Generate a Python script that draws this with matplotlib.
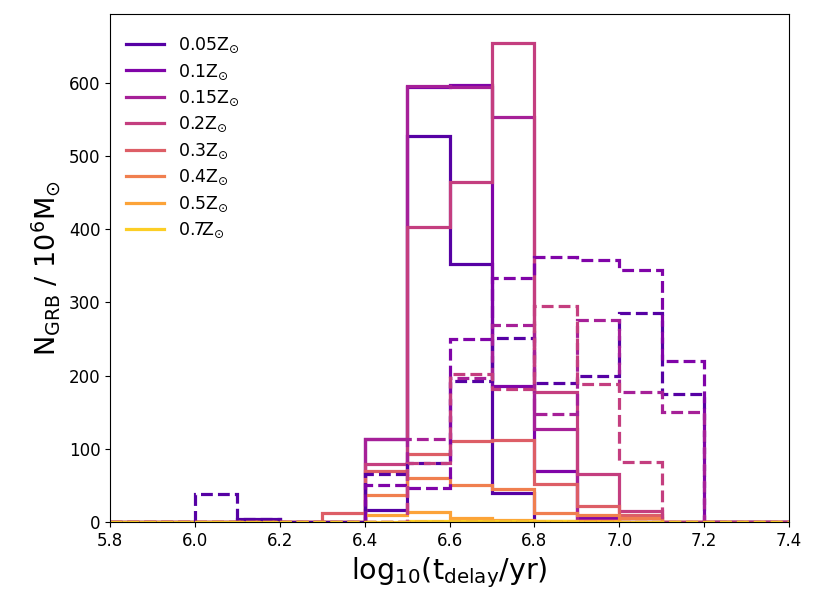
import numpy as np
import matplotlib
matplotlib.use('Agg')
import matplotlib.pyplot as plt

# bin edges in log10(t_delay/yr)
edges = [5.8, 5.9, 6.0, 6.1, 6.2, 6.3, 6.4, 6.5, 6.6, 6.7, 6.8, 6.9, 7.0, 7.1, 7.2, 7.3, 7.4]

labels = [r'0.05Z$_{\odot}$', r'0.1Z$_{\odot}$', r'0.15Z$_{\odot}$', r'0.2Z$_{\odot}$',
          r'0.3Z$_{\odot}$', r'0.4Z$_{\odot}$', r'0.5Z$_{\odot}$', r'0.7Z$_{\odot}$']

# solid histograms, N_GRB per 10^6 Msun
solid_005 = [0, 0, 0, 4, 0, 0, 16, 528, 352, 40, 0, 0, 0, 0, 0, 0]
solid_01 = [0, 0, 0, 0, 0, 0, 113, 594, 597, 186, 70, 5, 0, 0, 0, 0]
solid_015 = [0, 0, 0, 0, 0, 0, 113, 596, 595, 554, 127, 3, 0, 0, 0, 0]
solid_02 = [0, 0, 0, 0, 0, 0, 79, 403, 465, 655, 178, 66, 15, 0, 0, 0]
solid_03 = [0, 0, 0, 0, 0, 12, 70, 93, 111, 112, 52, 22, 10, 0, 0, 0]
solid_04 = [0, 0, 0, 0, 0, 0, 37, 60, 51, 45, 12, 10, 5, 0, 0, 0]
solid_05 = [0, 0, 0, 0, 0, 0, 10, 14, 6, 3, 2, 1, 0, 0, 0, 0]
solid_07 = [0, 0, 0, 0, 0, 0, 0, 2, 1.5, 1, 1, 0, 0, 0, 0, 0]

# dashed histograms
dash_005 = [0, 0, 38, 4, 0, 0, 66, 80, 193, 252, 190, 200, 286, 175, 0, 0]
dash_01 = [0, 0, 0, 0, 0, 0, 51, 47, 250, 334, 362, 358, 345, 220, 0, 0]
dash_015 = [0, 0, 0, 0, 0, 0, 0, 114, 197, 269, 148, 276, 178, 150, 0, 0]
dash_02 = [0, 0, 0, 0, 0, 0, 0, 80, 202, 182, 295, 189, 82, 0, 0, 0]
dash_03 = [0] * 16
dash_04 = [0] * 16
dash_05 = [0] * 16
dash_07 = [0] * 16

solids = [solid_005, solid_01, solid_015, solid_02, solid_03, solid_04, solid_05, solid_07]
dashes = [dash_005, dash_01, dash_015, dash_02, dash_03, dash_04, dash_05, dash_07]

colors = plt.cm.plasma(np.linspace(0.15, 0.9, len(labels)))

fig = plt.figure(figsize=(8.22, 6.16), dpi=100)
ax = fig.add_axes([0.1338, 0.1526, 0.8261, 0.8245])

for i in range(len(labels)):
    ax.stairs(solids[i], edges, color=colors[i], lw=2.3, label=labels[i])
for i in range(len(labels)):
    ax.stairs(dashes[i], edges, color=colors[i], lw=2.3, ls='--')

ax.set_xlim(5.8, 7.4)
ax.set_ylim(0, 694)
ax.set_xticks(np.arange(5.8, 7.41, 0.2))
ax.set_xticklabels(['5.8', '6.0', '6.2', '6.4', '6.6', '6.8', '7.0', '7.2', '7.4'])
ax.tick_params(labelsize=12)

ax.set_xlabel(r'log$_{10}$(t$_{\rm delay}$/yr)', fontsize=20.5)
ax.set_ylabel(r'N$_{\rm GRB}$ / 10$^{6}$M$_{\odot}$', fontsize=19.5)

ax.legend(loc='upper left', bbox_to_anchor=(0.0, 0.988), frameon=False,
          fontsize=12.5, handlelength=2.2, labelspacing=0.41)

fig.savefig('out.png', dpi=100)
